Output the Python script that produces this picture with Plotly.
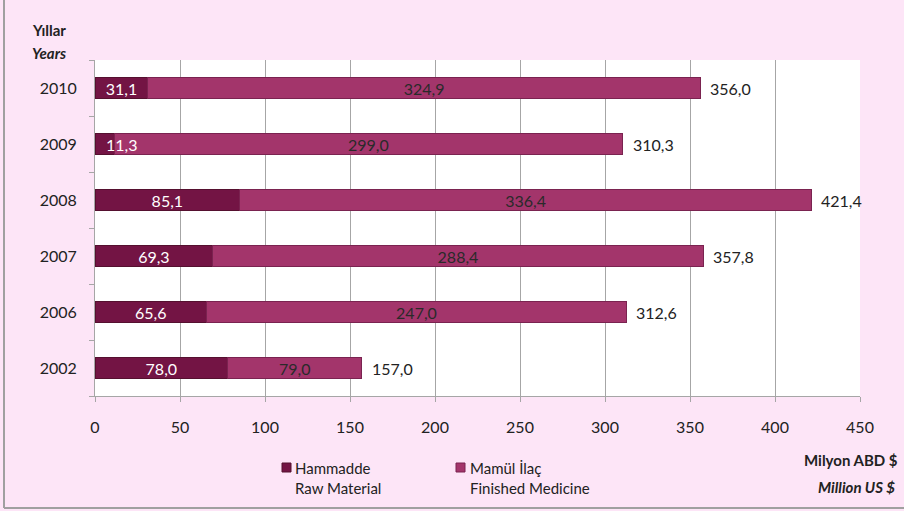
import plotly.graph_objects as go

years = ["2002", "2006", "2007", "2008", "2009", "2010"]
hammadde = [78.0, 65.6, 69.3, 85.1, 11.3, 31.1]
mamul = [79.0, 247.0, 288.4, 336.4, 299.0, 324.9]
totals = [157.0, 312.6, 357.8, 421.4, 310.3, 356.0]

c_ham = "#731444"
c_mam = "#a3356b"


def tr(v):
    return f"{v:.1f}".replace(".", ",")


fnt = "Lato, 'Open Sans', sans-serif"
W, H = 765, 336  # plot area size in px
small = 20  # segments too thin for an inside label

fig = go.Figure()
fig.add_trace(go.Bar(
    y=years, x=hammadde, orientation="h", name="Hammadde",
    marker=dict(color=c_ham, line=dict(color="#55102f", width=1)),
    text=[tr(v) if v >= small else "" for v in hammadde],
    textposition="inside", insidetextanchor="middle",
    textangle=0, constraintext="none",
    textfont=dict(color="white", size=16, family=fnt), width=0.39,
))
fig.add_trace(go.Bar(
    y=years, x=mamul, orientation="h", name="Mamül İlaç",
    marker=dict(color=c_mam, line=dict(color="#7a2350", width=1)),
    text=[tr(v) for v in mamul], textposition="inside", insidetextanchor="middle",
    textangle=0, constraintext="none",
    textfont=dict(color="#2a2a2a", size=16, family=fnt), width=0.39,
))

# thin raw-material segments: label spills over the bar end
annotations = [
    dict(x=v, y=i, text=tr(v), xref="x", yref="y", xanchor="center", yanchor="middle",
         xshift=7, showarrow=False, font=dict(size=16, color="white"))
    for i, v in enumerate(hammadde) if v < small
]
# total labels at the end of each bar
annotations += [
    dict(x=t, y=i, text=tr(t), xref="x", yref="y", xanchor="left", yanchor="middle",
         xshift=8, showarrow=False, font=dict(size=16, color="#222"))
    for i, t in enumerate(totals)
]
annotations += [
    dict(text="<b>Yıllar</b>", xref="paper", yref="paper", x=-46/W, y=1 + 30/H,
         xanchor="center", yanchor="middle", showarrow=False, font=dict(size=15)),
    dict(text="<b><i>Years</i></b>", xref="paper", yref="paper", x=-46/W, y=1 + 7/H,
         xanchor="center", yanchor="middle", showarrow=False, font=dict(size=15)),
    dict(text="<b>Milyon ABD &#36;</b>", xref="paper", yref="paper", x=1 + 40/W, y=-64/H,
         xanchor="right", yanchor="middle", showarrow=False, font=dict(size=15)),
    dict(text="<b><i>Million US &#36;</i></b>", xref="paper", yref="paper", x=1 + 37/W, y=-91/H,
         xanchor="right", yanchor="middle", showarrow=False, font=dict(size=15)),
    # legend texts
    dict(text="Hammadde<br>Raw Material", xref="paper", yref="paper", x=(293 - 95)/W, y=-(457 - 396)/H,
         xanchor="left", yanchor="top", align="left", showarrow=False, font=dict(size=15)),
    dict(text="Mamül İlaç<br>Finished Medicine", xref="paper", yref="paper", x=(468 - 95)/W, y=-(457 - 396)/H,
         xanchor="left", yanchor="top", align="left", showarrow=False, font=dict(size=15)),
]

shapes = [
    # legend swatches
    dict(type="rect", xref="paper", yref="paper", x0=(282 - 95)/W, x1=(291 - 95)/W,
         y0=-(472 - 396)/H, y1=-(463 - 396)/H, fillcolor=c_ham, line=dict(color="#55102f", width=1)),
    dict(type="rect", xref="paper", yref="paper", x0=(456 - 95)/W, x1=(465 - 95)/W,
         y0=-(472 - 396)/H, y1=-(463 - 396)/H, fillcolor=c_mam, line=dict(color="#7a2350", width=1)),
    # outer frame (left and bottom)
    dict(type="line", xref="paper", yref="paper", x0=-91/W, x1=-91/W, y0=-112/H, y1=1 + 60/H,
         line=dict(color="#a0a0a0", width=2)),
    dict(type="line", xref="paper", yref="paper", x0=-91/W, x1=1 + 44/W, y0=-112/H, y1=-112/H,
         line=dict(color="#a0a0a0", width=2)),
]

fig.update_layout(
    width=904, height=511,
    barmode="stack",
    showlegend=False,
    paper_bgcolor="#fde5f7",
    plot_bgcolor="white",
    margin=dict(l=95, r=44, t=60, b=115),
    font=dict(family=fnt, size=16, color="#222"),
    xaxis=dict(range=[0, 450], dtick=50, showgrid=True, gridcolor="#a6a6a6", gridwidth=1,
               zeroline=False, ticks="outside", ticklen=5, tickcolor="#a6a6a6",
               showline=True, linecolor="#a6a6a6", ticklabelstandoff=12, automargin=False),
    yaxis=dict(type="category", categoryorder="array", categoryarray=years, showgrid=False,
               range=[-0.5, len(years) - 0.5],
               ticks="outside", ticklen=5, tickcolor="#a6a6a6", tickson="boundaries",
               showline=True, linecolor="#a6a6a6", ticklabelstandoff=14, automargin=False),
    shapes=shapes,
    annotations=annotations,
)

fig.write_html("out.html", config={"displayModeBar": False},
               post_script="document.body.style.margin='0';")
